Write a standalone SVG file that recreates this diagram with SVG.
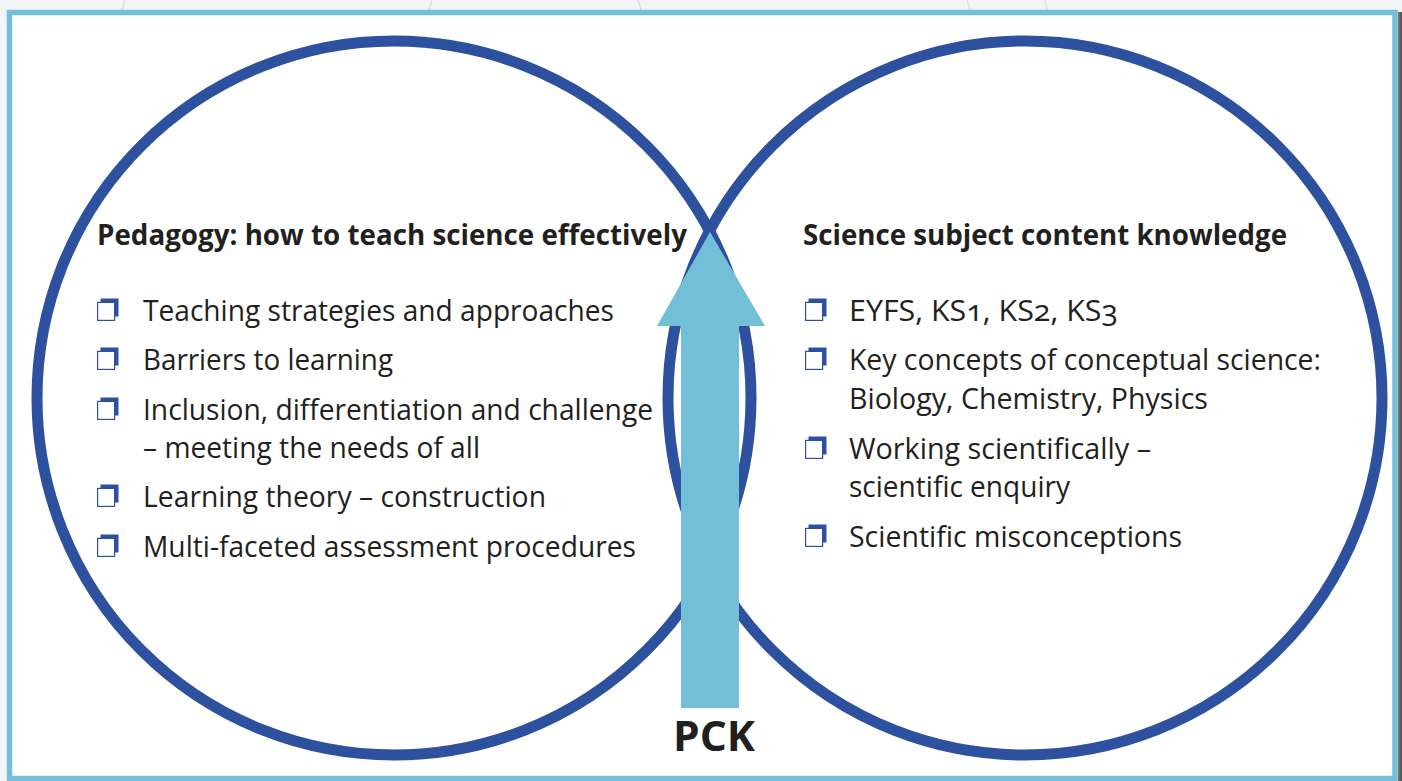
<svg xmlns="http://www.w3.org/2000/svg" xmlns:xlink="http://www.w3.org/1999/xlink" width="1402" height="781" viewBox="0 0 1402 781">
  <defs>
    <style>
      .ring { fill: none; stroke: #2d509f; stroke-width: 11; }
      .head { font-family: "Open Sans", "Lato", "Liberation Sans", sans-serif; font-weight: 700; font-size: 29px; fill: #231f20; }
      .item { font-family: "Open Sans", "Lato", "Liberation Sans", sans-serif; font-weight: 400; font-size: 29.5px; fill: #231f20; font-variant-numeric: oldstyle-nums; }
      .pck { font-family: "Open Sans", "Liberation Sans", sans-serif; font-weight: 700; font-size: 42px; fill: #231f20; }
      .arrow { fill: #74bfd8; }
      .bg-line { fill: none; stroke: #d6d9db; stroke-width: 1.2; }
    </style>
    <linearGradient id="shadow" x1="0" y1="0" x2="1" y2="0">
      <stop offset="0" stop-color="#7a7a7a"/>
      <stop offset="1" stop-color="#4e4e4e"/>
    </linearGradient>
    <!-- shadowed square bullet -->
    <g id="box">
      <rect x="3.5" y="-22.5" width="18" height="18" fill="#2d509f"/>
      <rect x="0.6" y="-18.6" width="17" height="18" fill="#ffffff" stroke="#2d509f" stroke-width="1.2"/>
    </g>
  </defs>

  <!-- page background outside the frame -->
  <rect x="0" y="0" width="1402" height="781" fill="#f3f4f5"/>
  <path class="bg-line" d="M125 0 L122 10 M432 0 L429 10 M638 0 L641 10 M967 0 L970 10 M1045 0 L1047 10"/>
  <rect x="1398" y="12" width="4" height="769" fill="url(#shadow)"/>

  <!-- framed panel -->
  <rect x="9.5" y="12.5" width="1385.5" height="766" fill="#ffffff" stroke="#74bfd8" stroke-width="5.5"/>

  <!-- the two overlapping circles -->
  <g id="circle-pedagogy">
    <circle class="ring" cx="394" cy="398" r="357"/>
  </g>
  <g id="circle-content">
    <circle class="ring" cx="1025" cy="398" r="357"/>
  </g>

  <!-- PCK arrow rising through the overlap -->
  <g id="connectors">
    <polygon class="arrow" points="710,232 765,326 739,326 739,708 681,708 681,326 657,326"/>
  </g>

  <g id="pck-label">
    <text class="pck" x="673" y="751" textLength="82" lengthAdjust="spacingAndGlyphs">PCK</text>
  </g>

  <!-- pedagogy list -->
  <g id="pedagogy-text">
    <text class="head" x="97" y="245" textLength="590" lengthAdjust="spacingAndGlyphs">Pedagogy: how to teach science effectively</text>
    <use xlink:href="#box" x="97" y="321"/>
    <use xlink:href="#box" x="97" y="370"/>
    <use xlink:href="#box" x="97" y="420"/>
    <use xlink:href="#box" x="97" y="507"/>
    <use xlink:href="#box" x="97" y="557"/>
    <text class="item" x="143" y="321" textLength="471" lengthAdjust="spacingAndGlyphs">Teaching strategies and approaches</text>
    <text class="item" x="143" y="370" textLength="250" lengthAdjust="spacingAndGlyphs">Barriers to learning</text>
    <text class="item" x="143" y="420" textLength="510" lengthAdjust="spacingAndGlyphs">Inclusion, differentiation and challenge</text>
    <text class="item" x="143" y="458" textLength="337" lengthAdjust="spacingAndGlyphs">– meeting the needs of all</text>
    <text class="item" x="143" y="507" textLength="403" lengthAdjust="spacingAndGlyphs">Learning theory – construction</text>
    <text class="item" x="143" y="557" textLength="493" lengthAdjust="spacingAndGlyphs">Multi-faceted assessment procedures</text>
  </g>

  <!-- subject knowledge list -->
  <g id="content-text">
    <text class="head" x="803" y="245" textLength="484" lengthAdjust="spacingAndGlyphs">Science subject content knowledge</text>
    <use xlink:href="#box" x="805" y="321"/>
    <use xlink:href="#box" x="805" y="370"/>
    <use xlink:href="#box" x="805" y="459"/>
    <use xlink:href="#box" x="805" y="547"/>
    <text class="item" x="849" y="321" textLength="269" lengthAdjust="spacingAndGlyphs">EYFS, KS1, KS2, KS3</text>
    <text class="item" x="849" y="370" textLength="472" lengthAdjust="spacingAndGlyphs">Key concepts of conceptual science:</text>
    <text class="item" x="849" y="409" textLength="359" lengthAdjust="spacingAndGlyphs">Biology, Chemistry, Physics</text>
    <text class="item" x="849" y="459" textLength="302" lengthAdjust="spacingAndGlyphs">Working scientifically –</text>
    <text class="item" x="849" y="497" textLength="221" lengthAdjust="spacingAndGlyphs">scientific enquiry</text>
    <text class="item" x="849" y="547" textLength="333" lengthAdjust="spacingAndGlyphs">Scientific misconceptions</text>
  </g>
</svg>
